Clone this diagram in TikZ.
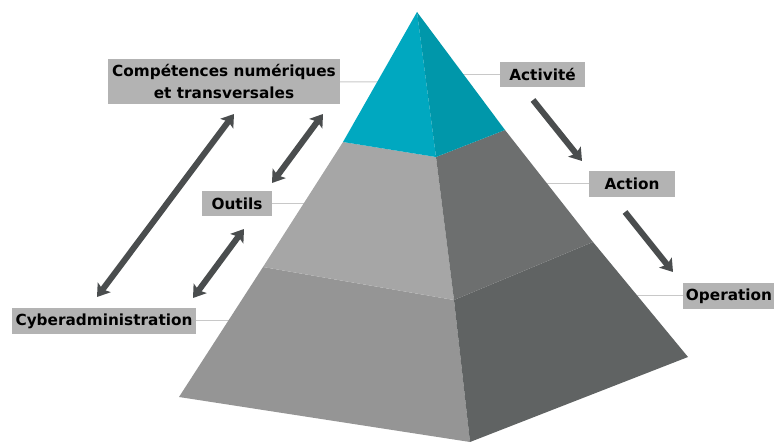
\documentclass[tikz,border=0pt]{standalone}
\usepackage{fontspec}
\setmainfont{DejaVu Sans}
\usetikzlibrary{arrows.meta}
\definecolor{tealL}{RGB}{0,168,192}
\definecolor{tealR}{RGB}{0,151,170}
\definecolor{midL}{RGB}{166,166,166}
\definecolor{midR}{RGB}{109,111,111}
\definecolor{botL}{RGB}{149,149,149}
\definecolor{botR}{RGB}{96,99,99}
\definecolor{boxgray}{RGB}{179,179,179}
\definecolor{arrowgray}{RGB}{74,77,78}
\definecolor{leadergray}{RGB}{200,200,200}
\begin{document}
\begin{tikzpicture}[x=1pt,y=1pt,yscale=-1,xscale=1,
	label box/.style={fill=boxgray,inner sep=0pt,minimum height=26pt,align=center,font=\fontsize{15.3}{22}\selectfont\bfseries},
	leader/.style={draw=leadergray,line width=1pt},
	flow/.style={draw=arrowgray,line width=6pt,-{Stealth[length=12pt,width=16pt,inset=2.5pt]}},
	both flow/.style={flow,{Stealth[length=12pt,width=16pt,inset=2.5pt]}-{Stealth[length=12pt,width=16pt,inset=2.5pt]}}]
	\useasboundingbox (0,0) rectangle (774,443);
	%Pyramid corners
	\coordinate (apex) at (417,12);
	\coordinate (L1) at (343,142);
	\coordinate (L2) at (263,267);
	\coordinate (L3) at (179,397);
	\coordinate (F1) at (436,157);
	\coordinate (F2) at (454,300);
	\coordinate (F3) at (470,442);
	\coordinate (R1) at (505,130);
	\coordinate (R2) at (593,242);
	\coordinate (R3) at (688,357);
	
	%Labels
	\node (comp) at (224,81.5) [label box,minimum width=232pt,minimum height=45pt] {Compétences numériques\\et transversales};
	\node (outils) at (237,203.5) [label box,minimum width=70pt,minimum height=25pt] {Outils};
	\node (cyber) at (104,321) [label box,minimum width=184pt] {Cyberadministration};
	\node (activite) at (542.5,74.5) [label box,minimum width=85pt,minimum height=25pt] {Activité};
	\node (action) at (632,184) [label box,minimum width=86pt] {Action};
	\node (operation) at (729,296) [label box,minimum width=92pt] {Operation};
	
	%Straight Lines: leaders to the pyramid
	\coordinate (compEnd) at (380,82);
	\coordinate (outilsEnd) at (305,203.5);
	\coordinate (cyberEnd) at (232,321);
	\coordinate (activiteEnd) at (460,74.5);
	\coordinate (actionEnd) at (545,184);
	\coordinate (operationEnd) at (636,296);
	\draw [leader] (comp) -- (compEnd);
	\draw [leader] (outils) -- (outilsEnd);
	\draw [leader] (cyber) -- (cyberEnd);
	\draw [leader] (activite) -- (activiteEnd);
	\draw [leader] (action) -- (actionEnd);
	\draw [leader] (operation) -- (operationEnd);
	
	%Shape: pyramid faces
	\fill [botL] (L2) -- (L3) -- (F3) -- (F2) -- cycle;
	\fill [botR] (F2) -- (F3) -- (R3) -- (R2) -- cycle;
	\fill [midL] (L1) -- (L2) -- (F2) -- (F1) -- cycle;
	\fill [midR] (F1) -- (F2) -- (R2) -- (R1) -- cycle;
	\fill [tealL] (apex) -- (L1) -- (F1) -- cycle;
	\fill [tealR] (apex) -- (F1) -- (R1) -- cycle;
	
	%Arrows
	\coordinate (a1) at (97,297);
	\coordinate (b1) at (234,114);
	\coordinate (a2) at (272,183);
	\coordinate (b2) at (323,114);
	\coordinate (a3) at (193,298);
	\coordinate (b3) at (244,229);
	\coordinate (a4) at (533,100);
	\coordinate (b4) at (582,161);
	\coordinate (a5) at (625,212);
	\coordinate (b5) at (673,272);
	\draw [both flow] (a1) -- (b1);
	\draw [both flow] (a2) -- (b2);
	\draw [both flow] (a3) -- (b3);
	\draw [flow] (a4) -- (b4);
	\draw [flow] (a5) -- (b5);
\end{tikzpicture}
\end{document}
